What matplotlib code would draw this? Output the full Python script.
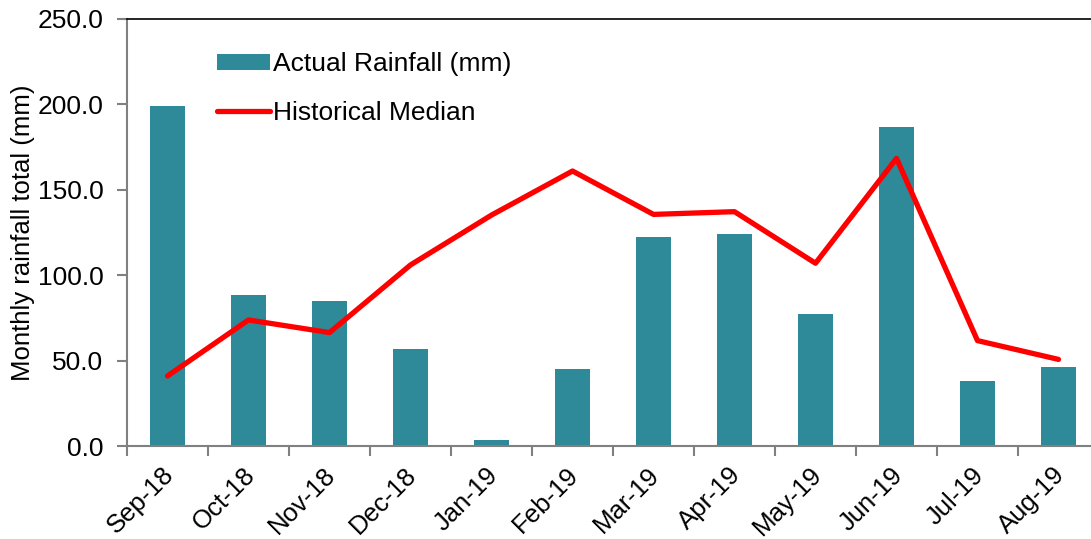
import numpy as np
import matplotlib
matplotlib.use("Agg")
import matplotlib.pyplot as plt
import matplotlib.transforms as mtransforms

plt.rcParams['font.family'] = ['Liberation Sans', 'DejaVu Sans']

# --- données ---
mois = ["Sep-18", "Oct-18", "Nov-18", "Dec-18", "Jan-19", "Feb-19",
        "Mar-19", "Apr-19", "May-19", "Jun-19", "Jul-19", "Aug-19"]
pluie_reelle = [199.1, 88.4, 84.9, 56.8, 3.5, 45.3,
                122.2, 124.1, 77.1, 186.6, 38.1, 46.3]
mediane_hist = [41.0, 73.8, 66.4, 106.0, 135.2, 161.0,
                135.6, 137.2, 107.0, 168.4, 61.7, 50.7]
y_ticks = [0, 50, 100, 150, 200, 250]

BLEU = "#2E8999"
ROUGE = "#FF0000"
GRIS = "#808080"
TAILLE = 19

fig = plt.figure(figsize=(10.91, 5.39), dpi=100)
ax = fig.add_axes([127 / 1091, 93 / 539, 972 / 1091, 427 / 539])

x = np.arange(len(mois))
barres = ax.bar(x, pluie_reelle, width=0.42, color=BLEU, label="Actual Rainfall (mm)", zorder=2)
ligne, = ax.plot(x, mediane_hist, color=ROUGE, lw=3.8, label="Historical Median",
                 solid_capstyle='round', zorder=3)

ax.set_xlim(-0.5, len(mois) - 0.5)
ax.set_ylim(0, 250)
ax.set_yticks(y_ticks)
ax.set_yticklabels([f"{v:.1f}" for v in y_ticks], fontsize=TAILLE)

# ticks de l'axe x entre les catégories, labels au centre
ax.set_xticks(x)
ax.set_xticklabels(mois, fontsize=18.5, rotation=45, ha='right', rotation_mode='anchor')
ax.set_xticks(np.arange(len(mois) + 1) - 0.5, minor=True)
ax.tick_params(axis='x', which='major', length=0, pad=12)
ax.tick_params(axis='x', which='minor', length=7, width=1.5, color=GRIS)
ax.tick_params(axis='y', length=7, width=1.5, color=GRIS, pad=10)
decal = mtransforms.ScaledTranslation(-6 / 100, 0, fig.dpi_scale_trans)
for lab in ax.get_xticklabels():
    lab.set_transform(lab.get_transform() + decal)

ax.set_ylabel("Monthly rainfall total (mm)", fontsize=18.5, labelpad=2)

for cote in ["left", "bottom"]:
    ax.spines[cote].set_color(GRIS)
    ax.spines[cote].set_linewidth(1.5)
ax.spines["top"].set_color("black")
ax.spines["top"].set_linewidth(1.2)
ax.spines["right"].set_visible(False)

ax.legend([barres, ligne], ["Actual Rainfall (mm)", "Historical Median"],
          loc="upper left", bbox_to_anchor=(217 / 1091, 1 - 52 / 539),
          bbox_transform=fig.transFigure, frameon=False, fontsize=TAILLE,
          handlelength=2.0, handleheight=0.55, handletextpad=0.12,
          labelspacing=0.95, borderpad=0, borderaxespad=0)

fig.savefig("out.png", dpi=100)
